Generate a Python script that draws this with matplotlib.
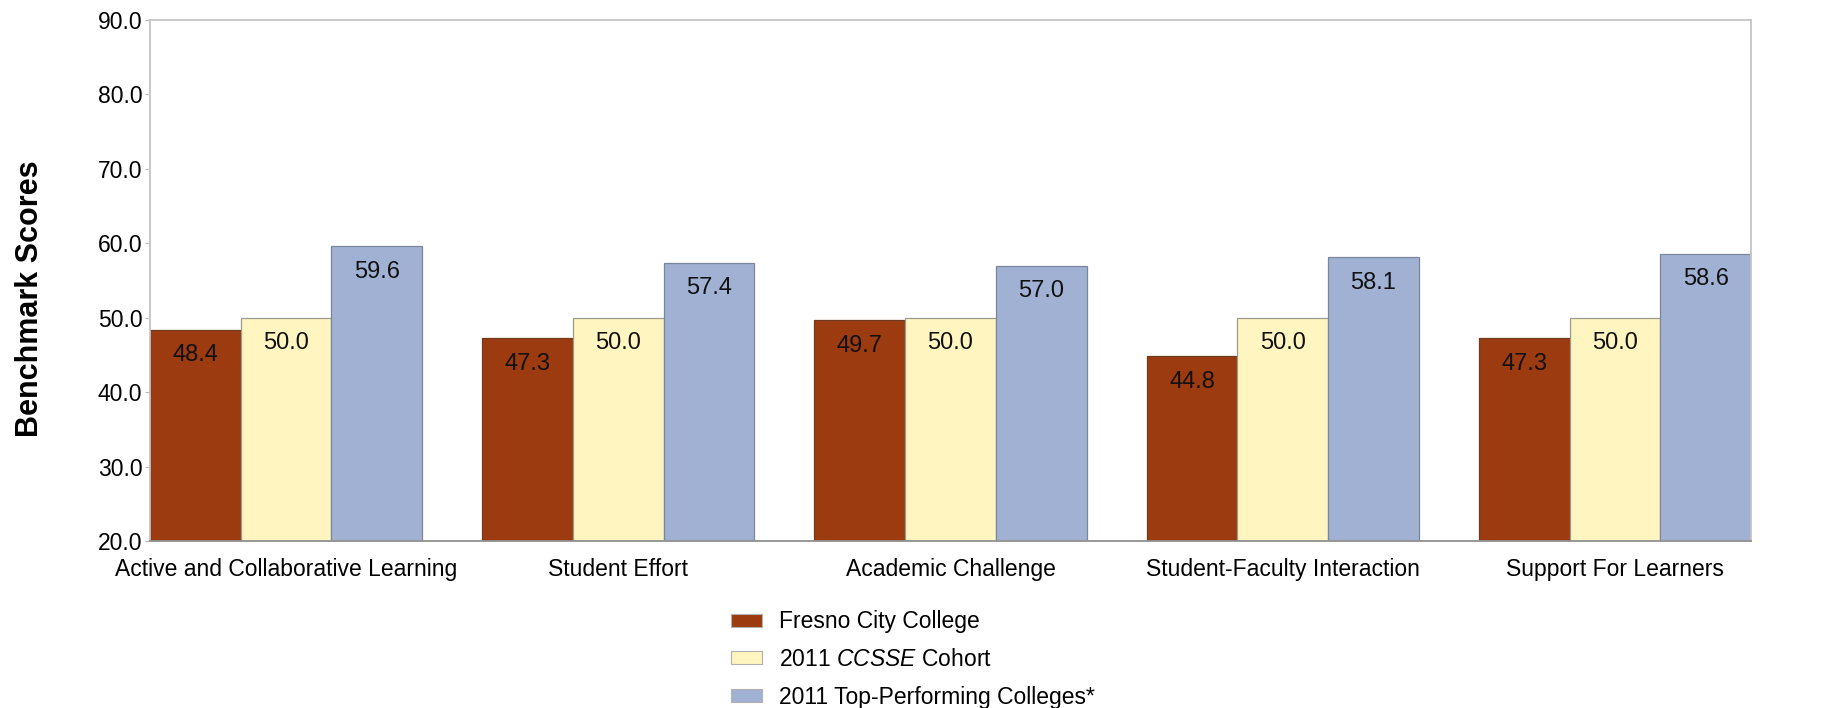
import numpy as np
import matplotlib
matplotlib.use("Agg")
from matplotlib import pyplot as plt
from matplotlib.patches import Patch

"""Benchmark scores: college vs cohort vs top performers"""

categories = ["Active and Collaborative Learning", "Student Effort",
              "Academic Challenge", "Student-Faculty Interaction",
              "Support For Learners"]
fresno = [48.4, 47.3, 49.7, 44.8, 47.3]
cohort = [50.0, 50.0, 50.0, 50.0, 50.0]
top = [59.6, 57.4, 57.0, 58.1, 58.6]
series_names = ["Fresno City College", "2011 $\\it{CCSSE}$ Cohort",
                "2011 Top-Performing Colleges*"]
yticks = [20, 30, 40, 50, 60, 70, 80, 90]

colors = ["#9c3a10", "#fff5c0", "#a1b1d4"]
edges = ["#6e3a22", "#9a9a90", "#7a869c"]

plt.rcParams["font.family"] = ["Liberation Sans Narrow", "Liberation Sans", "DejaVu Sans"]
plt.rcParams["mathtext.fontset"] = "custom"
plt.rcParams["mathtext.it"] = "Liberation Sans:italic"
plt.rcParams["mathtext.rm"] = "Liberation Sans"

fig = plt.figure(figsize=(18.37, 7.08), dpi=100)
# axes box: x 150..1751 px, y 20..541 px
ax = fig.add_axes([150 / 1837, 1 - 541 / 708, 1601 / 1837, 521 / 708])

x = np.arange(len(categories))
w = 0.273
for i, vals in enumerate([fresno, cohort, top]):
    bars = ax.bar(x + (i - 1) * w, vals, w, bottom=0, color=colors[i],
                  edgecolor=edges[i], linewidth=0.9, zorder=2)
    for b, v in zip(bars, vals):
        ax.annotate("%.1f" % v, (b.get_x() + b.get_width() / 2, v),
                    xytext=(0, -18.5), textcoords="offset points",
                    ha="center", va="center", fontsize=17, color="#111111")

ax.set_ylim(20, 90)
ax.set_xlim(-1.5 * w, len(categories) - 1 + 1.5 * w)
ax.set_yticks(yticks)
ax.set_yticklabels(["%.1f" % t for t in yticks], fontsize=16.5)
ax.set_xticks(x)
ax.set_xticklabels(categories, fontsize=16.5)
ax.tick_params(axis="x", length=0, pad=12)
ax.tick_params(axis="y", length=3.5, color="#b8b8b8", pad=2)

for s in ["left", "top", "right"]:
    ax.spines[s].set_color("#c4c4c4")
    ax.spines[s].set_linewidth(1.3)
ax.spines["bottom"].set_color("#909090")
ax.spines["bottom"].set_linewidth(1.3)

fig.text(0.0163, 0.578, "Benchmark Scores", rotation=90, ha="center",
         va="center", fontsize=22, fontweight="bold", family="Liberation Sans")

handles = [Patch(facecolor=c, edgecolor="#b0b0b0", linewidth=0.8) for c in colors]
fig.legend(handles, series_names, loc="upper left",
           bbox_to_anchor=(0.398, 0.138), frameon=False, fontsize=16.5,
           handlelength=1.36, handleheight=0.5, labelspacing=0.64,
           handletextpad=0.75, borderpad=0, borderaxespad=0)

fig.savefig("out.png", dpi=100)
